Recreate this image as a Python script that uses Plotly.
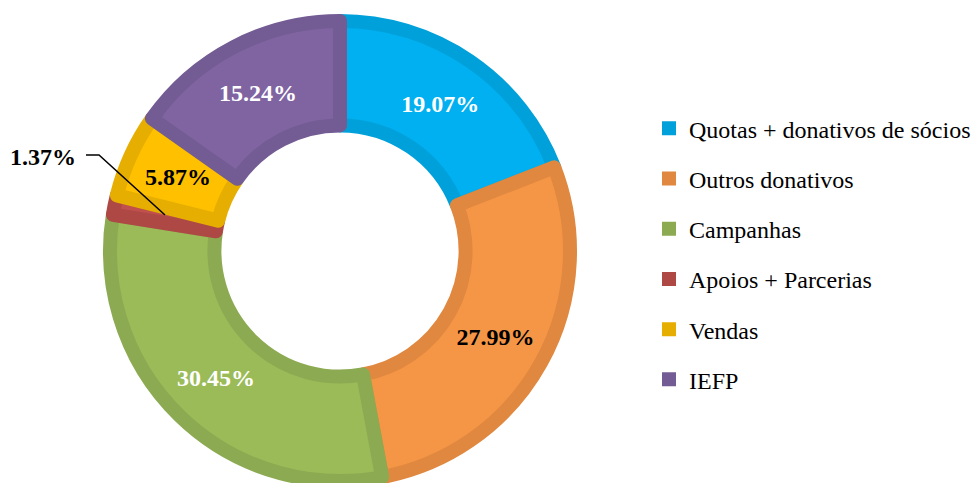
"""Donut chart of income sources."""

import math

import plotly.graph_objects as go

categories = [
    "Quotas + donativos de sócios",
    "Outros donativos",
    "Campanhas",
    "Apoios + Parcerias",
    "Vendas",
    "IEFP",
]
shares = [19.07, 27.99, 30.45, 1.37, 5.87, 15.24]

FILL = ["#00B0F0", "#F59646", "#9BBB59", "#C0504D", "#FFC000", "#8064A2"]
EDGE = ["#00A0DA", "#E0883F", "#8CAA51", "#AD4845", "#E6AE00", "#735B93"]
TEXT_COLORS = ["white", "black", "white", "black", "black", "white"]
FONT = "Liberation Serif"

W, H = 976, 483
CX, CY, R, HOLE = 340, 251, 230, 0.546  # pixel centre / radius of the donut

labels_text = [f"<b>{v:.2f}%</b>" for v in shares]
# thin slices get their labels placed as annotations
labels_text[3] = ""
labels_text[4] = ""

fig = go.Figure()
fig.add_trace(
    go.Pie(
        labels=categories,
        values=shares,
        text=labels_text,
        textinfo="text",
        textposition="inside",
        insidetextorientation="horizontal",
        textfont=dict(family=FONT, size=24, color=TEXT_COLORS),
        sort=False,
        direction="clockwise",
        hole=HOLE,
        marker=dict(colors=FILL, line=dict(color=EDGE, width=14)),
        domain=dict(x=[(CX - R) / W, (CX + R) / W], y=[(H - CY - R) / H, (H - CY + R) / H]),
        showlegend=False,
        hoverinfo="label+percent",
    )
)

# legend entries
for name, col in zip(categories, EDGE):
    fig.add_trace(
        go.Scatter(
            x=[None],
            y=[None],
            mode="markers",
            name=name,
            legendgroup=name,
            marker=dict(symbol="square", size=14, color=col),
        )
    )

# label for Vendas at the middle of its sector
start = sum(shares[:4])
mid = (start + shares[4] / 2) / sum(shares) * 2 * math.pi
rmid = R * (1 + HOLE) / 2
fig.add_annotation(
    x=(CX + rmid * math.sin(mid)) / W, y=(H - CY + rmid * math.cos(mid)) / H,
    xref="paper", yref="paper", xanchor="center", yanchor="middle",
    text=f"<b>{shares[4]:.2f}%</b>", showarrow=False,
    font=dict(family=FONT, size=24, color="black"),
)

# outside label for the thin slice
fig.add_annotation(
    x=43 / W, y=1 - 157 / H, xref="paper", yref="paper",
    xanchor="center", yanchor="middle",
    text=f"<b>{shares[3]:.2f}%</b>", showarrow=False,
    font=dict(family=FONT, size=24, color="black"),
)
fig.add_shape(
    type="path", xref="paper", yref="paper",
    path=f"M {86/W},{1-155/H} L {99/W},{1-155/H} L {165/W},{1-215/H}",
    line=dict(color="black", width=1.5),
)

fig.update_layout(
    width=W,
    height=H,
    margin=dict(l=0, r=0, t=0, b=0),
    paper_bgcolor="white",
    plot_bgcolor="white",
    uniformtext=dict(minsize=24, mode="show"),
    xaxis=dict(visible=False),
    yaxis=dict(visible=False),
    legend=dict(
        x=0.665, y=0.78, xanchor="left", yanchor="top",
        font=dict(family=FONT, size=24, color="black"),
        tracegroupgap=16,
        itemclick=False,
    ),
)

fig.write_html(
    "out.html",
    config={"displayModeBar": False},
    post_script="document.body.style.margin = '0';",
)
